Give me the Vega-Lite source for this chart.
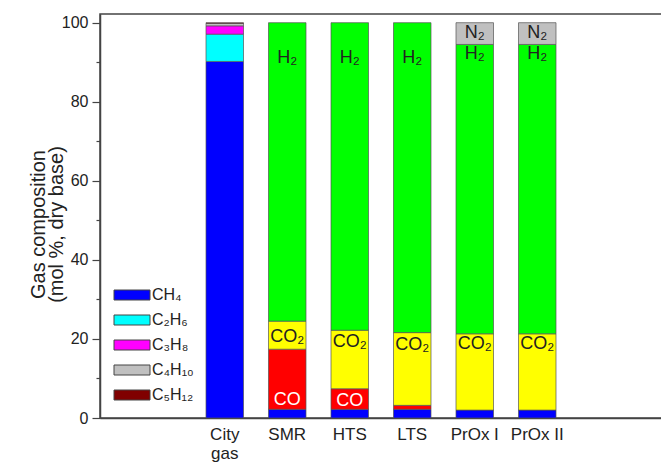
{
  "$schema": "https://vega.github.io/schema/vega-lite/v6.json",
  "autosize": "none",
  "width": 562,
  "height": 404,
  "padding": {"left": 100, "top": 14, "right": 0, "bottom": 47},
  "background": "white",
  "config": {
    "font": "Liberation Sans",
    "view": {"stroke": "#444", "strokeWidth": 1.5},
    "axis": {"domainColor": "#444", "domainWidth": 1.5, "tickColor": "#444", "tickWidth": 1.2, "labelColor": "#222", "titleColor": "#222", "grid": false, "labelFont": "Liberation Sans", "titleFont": "Liberation Sans"}
  },
  "datasets": {
    "bars": [
      {"cat": "City gas", "comp": "CH₄", "k": 1, "v": 90.2},
      {"cat": "City gas", "comp": "C₂H₆", "k": 2, "v": 6.9},
      {"cat": "City gas", "comp": "C₃H₈", "k": 3, "v": 2.1},
      {"cat": "City gas", "comp": "C₄H₁₀", "k": 4, "v": 0.6},
      {"cat": "City gas", "comp": "C₅H₁₂", "k": 5, "v": 0.2},
      {"cat": "SMR", "comp": "CH₄", "k": 1, "v": 2.2},
      {"cat": "SMR", "comp": "CO", "k": 6, "v": 15.2},
      {"cat": "SMR", "comp": "CO₂", "k": 7, "v": 7.1},
      {"cat": "SMR", "comp": "H₂", "k": 8, "v": 75.5},
      {"cat": "HTS", "comp": "CH₄", "k": 1, "v": 2.2},
      {"cat": "HTS", "comp": "CO", "k": 6, "v": 5.2},
      {"cat": "HTS", "comp": "CO₂", "k": 7, "v": 14.8},
      {"cat": "HTS", "comp": "H₂", "k": 8, "v": 77.8},
      {"cat": "LTS", "comp": "CH₄", "k": 1, "v": 2.2},
      {"cat": "LTS", "comp": "CO", "k": 6, "v": 1.0},
      {"cat": "LTS", "comp": "CO₂", "k": 7, "v": 18.4},
      {"cat": "LTS", "comp": "H₂", "k": 8, "v": 78.4},
      {"cat": "PrOx I", "comp": "CH₄", "k": 1, "v": 2.0},
      {"cat": "PrOx I", "comp": "CO₂", "k": 7, "v": 19.3},
      {"cat": "PrOx I", "comp": "H₂", "k": 8, "v": 73.2},
      {"cat": "PrOx I", "comp": "N₂", "k": 9, "v": 5.5},
      {"cat": "PrOx II", "comp": "CH₄", "k": 1, "v": 2.0},
      {"cat": "PrOx II", "comp": "CO₂", "k": 7, "v": 19.3},
      {"cat": "PrOx II", "comp": "H₂", "k": 8, "v": 73.2},
      {"cat": "PrOx II", "comp": "N₂", "k": 9, "v": 5.5}
    ],
    "labels": [
      {"cat": "SMR", "lab": "H₂", "ly": 91.0},
      {"cat": "SMR", "lab": "CO₂", "ly": 20.5},
      {"cat": "SMR", "lab": "CO", "ly": 4.5},
      {"cat": "HTS", "lab": "H₂", "ly": 91.0},
      {"cat": "HTS", "lab": "CO₂", "ly": 19.3},
      {"cat": "HTS", "lab": "CO", "ly": 4.3},
      {"cat": "LTS", "lab": "H₂", "ly": 91.0},
      {"cat": "LTS", "lab": "CO₂", "ly": 18.5},
      {"cat": "PrOx I", "lab": "N₂", "ly": 97.3},
      {"cat": "PrOx I", "lab": "H₂", "ly": 92.2},
      {"cat": "PrOx I", "lab": "CO₂", "ly": 18.7},
      {"cat": "PrOx II", "lab": "N₂", "ly": 97.3},
      {"cat": "PrOx II", "lab": "H₂", "ly": 92.2},
      {"cat": "PrOx II", "lab": "CO₂", "ly": 18.7}
    ]
  },
  "layer": [
    {
      "data": {"name": "bars"},
      "mark": {"type": "bar", "stroke": "#555", "strokeWidth": 0.7},
      "encoding": {
        "x": {
          "field": "cat", "type": "nominal",
          "scale": {"domain": ["_L", "City gas", "SMR", "HTS", "LTS", "PrOx I", "PrOx II", "_R"], "paddingInner": 0.4, "paddingOuter": 0.696},
          "axis": {"title": null, "ticks": false, "labelAngle": 0, "labelFontSize": 17, "labelPadding": 8, "labelLineHeight": 19, "labelBaseline": "top",
            "labelExpr": "datum.value == 'City gas' ? ['City', 'gas'] : (datum.value[0] == '_' ? '' : datum.value)"}
        },
        "y": {
          "field": "v", "type": "quantitative", "stack": "zero",
          "scale": {"domain": [0, 102.2], "nice": false, "zero": true},
          "axis": {"orient": "left", "values": [0, 20, 40, 60, 80, 100], "tickSize": 8, "labelFontSize": 16, "labelPadding": 4,
            "title": ["Gas composition", "(mol %, dry base)"], "titleFontSize": 20, "titleFontWeight": "normal", "titleLineHeight": 18,
            "titleX": -52, "titleY": 210, "titleAngle": -90, "titleBaseline": "bottom", "titleAlign": "center"}
        },
        "color": {
          "field": "comp", "type": "nominal",
          "scale": {
            "domain": ["CH₄", "C₂H₆", "C₃H₈", "C₄H₁₀", "C₅H₁₂", "CO", "CO₂", "H₂", "N₂"],
            "range": ["#0000ff", "#00ffff", "#ff00ff", "#c0c0c0", "#800000", "#ff0000", "#ffff00", "#00ff00", "#c0c0c0"]
          },
          "legend": {
            "values": ["CH₄", "C₂H₆", "C₃H₈", "C₄H₁₀", "C₅H₁₂"],
            "title": null, "orient": "none", "legendX": 24, "legendY": 273, "padding": 0,
            "symbolType": "M-3.6,-1H3.6V1H-3.6Z", "symbolSize": 100, "symbolStrokeColor": "#444", "symbolStrokeWidth": 1, "symbolOpacity": 1,
            "labelFontSize": 16, "labelColor": "#222", "labelOffset": 12, "rowPadding": 9, "labelFont": "Liberation Sans"
          }
        },
        "order": {"field": "k", "type": "quantitative"}
      }
    },
    {
      "data": {"name": "labels"},
      "mark": {"type": "text", "fontSize": 18, "baseline": "middle", "align": "center"},
      "encoding": {
        "x": {"field": "cat", "type": "nominal"},
        "y": {"field": "ly", "type": "quantitative",
          "axis": {"orient": "left", "values": [10, 30, 50, 70, 90], "tickSize": 4, "labels": false, "domain": false, "title": null}},
        "text": {"field": "lab"},
        "color": {"condition": {"test": "datum.lab === 'CO'", "value": "#ffffff"}, "value": "#222222"}
      }
    }
  ],
  "resolve": {"axis": {"y": "independent"}}
}
